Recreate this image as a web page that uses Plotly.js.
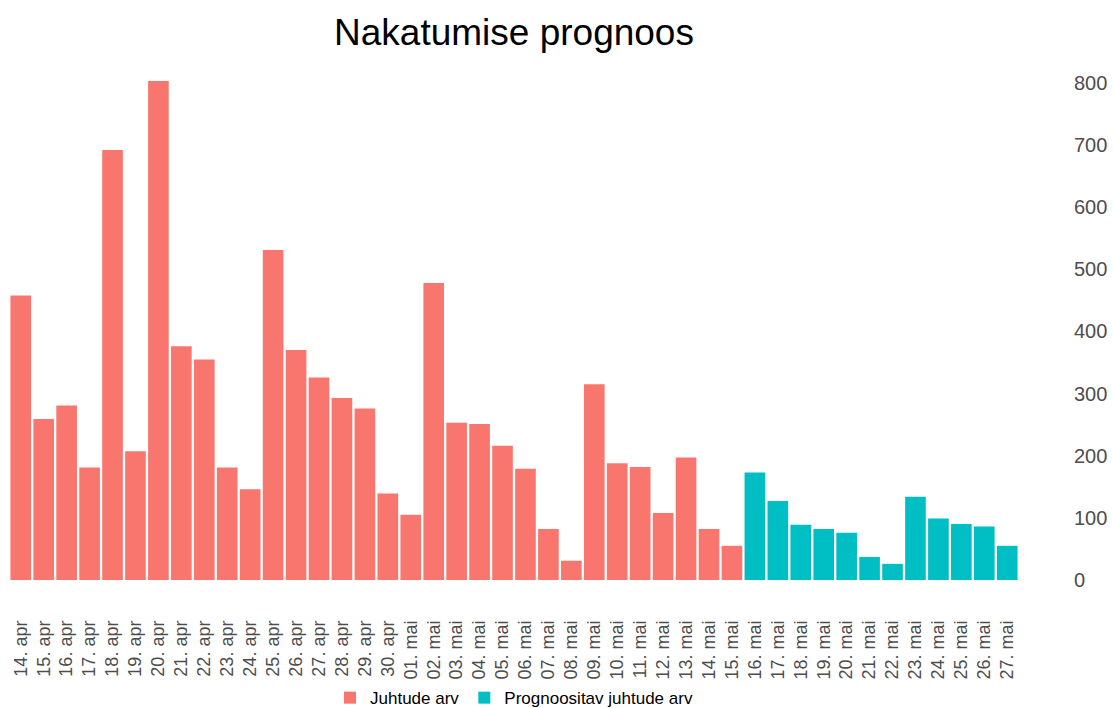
<!DOCTYPE html>
<html>
<head>
<meta charset="utf-8">
<script src="https://cdn.plot.ly/plotly-3.0.1.min.js"></script>
<style>html,body{margin:0;padding:0;background:#fff;}#chart{width:1113px;height:708px;}</style>
</head>
<body>
<div id="chart"></div>
<script>
// Observed cases
var observedDates = ["14. apr","15. apr","16. apr","17. apr","18. apr","19. apr","20. apr","21. apr","22. apr","23. apr","24. apr","25. apr","26. apr","27. apr","28. apr","29. apr","30. apr","01. mai","02. mai","03. mai","04. mai","05. mai","06. mai","07. mai","08. mai","09. mai","10. mai","11. mai","12. mai","13. mai","14. mai","15. mai"];
var observedCases = [458,259,281,181,692,207,803,376,355,181,146,531,370,326,293,276,139,105,478,253,251,216,179,82,31,315,188,182,108,197,82,55];

// Forecast cases
var forecastDates = ["16. mai","17. mai","18. mai","19. mai","20. mai","21. mai","22. mai","23. mai","24. mai","25. mai","26. mai","27. mai"];
var forecastCases = [173,127,89,82,76,37,26,134,99,90,86,55];

var allDates = observedDates.concat(forecastDates);
var yTicks = [0,100,200,300,400,500,600,700,800];

var traces = [
  {type:'bar', name:'Juhtude arv', x:observedDates, y:observedCases,
   marker:{color:'#F8766D', line:{width:0}}, hoverinfo:'x+y'},
  {type:'bar', name:'Prognoositav juhtude arv', x:forecastDates, y:forecastCases,
   marker:{color:'#00BFC4', line:{width:0}}, hoverinfo:'x+y'}
];

var layout = {
  width:1113, height:708,
  paper_bgcolor:'#ffffff', plot_bgcolor:'#ffffff',
  font:{family:'"Liberation Sans", Arial, sans-serif', color:'#000'},
  margin:{l:7, r:92, t:58, b:128, pad:0, autoexpand:false},
  title:{text:'Nakatumise prognoos', font:{size:37, color:'#000'}, x:0.5, xref:'paper', xanchor:'center', y:0.955, yanchor:'middle'},
  barmode:'relative',
  bargap:0.1,
  showlegend:true,
  legend:{orientation:'h', x:0.5, xanchor:'center', yref:'container', y:0.014, yanchor:'middle', font:{size:17, color:'#000'}, traceorder:'normal'},
  xaxis:{type:'category', categoryorder:'array', categoryarray:allDates, range:[-0.6, allDates.length-0.4],
         tickmode:'array', tickvals:allDates, ticktext:allDates,
         tickangle:-90, ticks:'', showgrid:false, zeroline:false, showline:false, automargin:false,
         tickfont:{size:18, color:'#4D4D4D'}, ticklabelstandoff:36, fixedrange:true},
  yaxis:{side:'right', range:[0,840], tickmode:'array', tickvals:yTicks, ticktext:yTicks.map(String), ticks:'', showgrid:false, zeroline:false, showline:false, automargin:false,
         tickfont:{size:20, color:'#4D4D4D'}, ticklabelstandoff:52, fixedrange:true}
};

Plotly.newPlot('chart', traces, layout, {displayModeBar:false, staticPlot:true});
</script>
</body>
</html>
